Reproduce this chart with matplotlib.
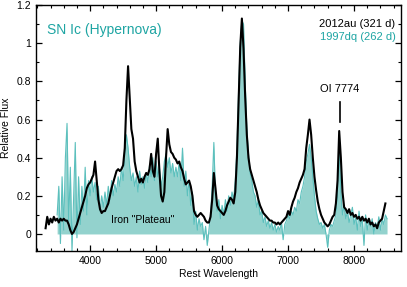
import numpy as np
import matplotlib
matplotlib.use("Agg")
import matplotlib.pyplot as plt
from matplotlib.ticker import MultipleLocator, FuncFormatter

plt.rcParams['font.family'] = ['Liberation Sans', 'DejaVu Sans']

# SN 2012au (321 d), sampled every 25 A from 3325
wl_12au = np.arange(3325, 8476, 25)
flux_12au = [
    0.03, 0.09, 0.05,
    0.08, 0.06, 0.09, 0.07,
    0.08, 0.06, 0.08, 0.07,
    0.08, 0.07, 0.07, 0.05,
    0.02, 0.00, 0.01, 0.03,
    0.05, 0.08, 0.11, 0.14,
    0.17, 0.20, 0.24, 0.26,
    0.27, 0.29, 0.31, 0.38,
    0.28, 0.18, 0.13, 0.11,
    0.12, 0.12, 0.14, 0.16,
    0.20, 0.24, 0.27, 0.30,
    0.33, 0.34, 0.33, 0.34,
    0.36, 0.45, 0.70, 0.88,
    0.72, 0.55, 0.50, 0.38,
    0.33, 0.30, 0.27, 0.29,
    0.27, 0.30, 0.32, 0.31,
    0.34, 0.42, 0.33, 0.30,
    0.42, 0.50, 0.33, 0.20,
    0.17, 0.22, 0.40, 0.55,
    0.47, 0.43, 0.42, 0.40,
    0.39, 0.37, 0.38, 0.35,
    0.33, 0.29, 0.26, 0.27,
    0.28, 0.25, 0.20, 0.12,
    0.10, 0.09, 0.10, 0.11,
    0.10, 0.09, 0.07, 0.06,
    0.06, 0.09, 0.18, 0.32,
    0.24, 0.15, 0.13, 0.12,
    0.11, 0.10, 0.12, 0.15,
    0.17, 0.19, 0.18, 0.16,
    0.22, 0.40, 0.70, 0.98,
    1.13, 0.97, 0.72, 0.52,
    0.40, 0.34, 0.31, 0.28,
    0.25, 0.22, 0.18, 0.15,
    0.13, 0.11, 0.10, 0.09,
    0.08, 0.07, 0.07, 0.06,
    0.06, 0.05, 0.06, 0.05,
    0.06, 0.07, 0.08, 0.09,
    0.12, 0.10, 0.14, 0.17,
    0.19, 0.22, 0.24, 0.27,
    0.29, 0.31, 0.34, 0.45,
    0.52, 0.60, 0.52, 0.40,
    0.30, 0.23, 0.17, 0.13,
    0.10, 0.08, 0.06, 0.05,
    0.04, 0.05, 0.07, 0.09,
    0.10, 0.16, 0.28, 0.54,
    0.40, 0.22, 0.14, 0.13,
    0.11, 0.13, 0.10, 0.11,
    0.09, 0.10, 0.08, 0.09,
    0.07, 0.09, 0.07, 0.08,
    0.06, 0.08, 0.05, 0.06,
    0.04, 0.05, 0.03, 0.06,
    0.07, 0.08, 0.12, 0.16,
]

# SN 1997dq (262 d), sampled every 25 A from 3500
wl_97dq = np.arange(3500, 8501, 25)
flux_97dq = [
    0.10, 0.25, -0.05, 0.30,
    0.02, 0.40, 0.58, 0.05,
    0.35, -0.09, 0.20, 0.48,
    -0.02, 0.30, 0.05, 0.25,
    0.12, 0.35, 0.10, 0.28,
    0.20, 0.30, 0.22, 0.27,
    0.18, 0.25, 0.12, 0.20,
    0.14, 0.22, 0.15, 0.25,
    0.18, 0.28, 0.20, 0.26,
    0.22, 0.30, 0.25, 0.35,
    0.28, 0.40, 0.52, 0.45,
    0.35, 0.28, 0.32, 0.25,
    0.30, 0.22, 0.33, 0.26,
    0.30, 0.24, 0.32, 0.27,
    0.36, 0.30, 0.40, 0.28,
    0.38, 0.30, 0.35, 0.25,
    0.30, 0.38, 0.42, 0.35,
    0.40, 0.32, 0.37, 0.30,
    0.35, 0.30, 0.38, 0.28,
    0.45, 0.25, 0.33, 0.20,
    0.28, 0.15, 0.22, 0.05,
    0.12, 0.02, 0.08, 0.04,
    0.06, -0.03, 0.04, -0.06,
    0.02, 0.10, 0.25, 0.48,
    0.20, 0.12, 0.18, 0.08,
    0.15, 0.10, 0.18, 0.12,
    0.20, 0.15, 0.22, 0.18,
    0.28, 0.45, 0.75, 1.00,
    1.12, 1.10, 0.80, 0.55,
    0.42, 0.32, 0.28, 0.22,
    0.20, 0.14, 0.18, 0.10,
    0.12, 0.06, 0.09, 0.04,
    0.07, 0.03, 0.06, 0.02,
    0.05, 0.01, 0.04, 0.02,
    0.06, -0.03, 0.05, 0.07,
    0.10, 0.08, 0.12, 0.10,
    0.14, 0.12, 0.18, 0.16,
    0.22, 0.25, 0.30, 0.38,
    0.42, 0.47, 0.40, 0.30,
    0.20, 0.12, 0.08, 0.05,
    0.06, 0.03, 0.05, 0.00,
    -0.07, 0.02, 0.05, 0.04,
    0.07, 0.10, 0.20, 0.45,
    0.22, 0.10, 0.15, 0.08,
    0.12, 0.06, 0.10, 0.14,
    0.05, 0.09, 0.02, 0.12,
    0.04, 0.08, -0.06, 0.10,
    0.02, 0.07, 0.04, 0.08,
    0.00, 0.06, 0.03, 0.09,
    0.02, 0.08, 0.05, 0.10,
    0.08,
]

teal_fill = '#93d2cd'
teal_line = '#5cc0bd'
teal_text = '#1ea5a3'

fig = plt.figure(figsize=(4.07, 2.87), dpi=100)
ax = fig.add_axes([0.0885, 0.125, 0.8965, 0.857])

ax.fill_between(wl_97dq, 0, flux_97dq, color=teal_fill, lw=0)
ax.plot(wl_97dq, flux_97dq, color=teal_line, lw=0.8)
ax.plot(wl_12au, flux_12au, color='black', lw=1.5)

ax.set_xlim(3180, 8710)
ax.set_ylim(-0.09, 1.2)
ax.xaxis.set_major_locator(MultipleLocator(1000))
ax.xaxis.set_minor_locator(MultipleLocator(200))
ax.yaxis.set_major_locator(MultipleLocator(0.2))
ax.yaxis.set_minor_locator(MultipleLocator(0.1))
ax.yaxis.set_major_formatter(FuncFormatter(lambda v, p: '%g' % round(v, 2)))
ax.tick_params(which='both', direction='in', top=True, right=True, labelsize=7.5)
ax.tick_params(which='major', length=4, width=0.9)
ax.tick_params(which='minor', length=2.5, width=0.8)
for s in ax.spines.values():
    s.set_linewidth(1.0)

ax.set_xlabel('Rest Wavelength', fontsize=7.5, labelpad=2)
ax.set_ylabel('Relative Flux', fontsize=7.5, labelpad=4)

ax.text(0.03, 0.9, 'SN Ic (Hypernova)', transform=ax.transAxes,
        color=teal_text, fontsize=10, va='center')
ax.text(0.985, 0.925, '2012au (321 d)', transform=ax.transAxes,
        color='black', fontsize=8, ha='right', va='center')
ax.text(0.985, 0.87, '1997dq (262 d)', transform=ax.transAxes,
        color=teal_text, fontsize=8, ha='right', va='center')
ax.text(7780, 0.76, 'OI 7774', fontsize=8, ha='center', va='center')
ax.plot([7780, 7780], [0.585, 0.69], color='black', lw=1.2)
ax.text(4800, 0.075, 'Iron "Plateau"', fontsize=7.5, ha='center', va='center')

fig.savefig('out.png', dpi=100)
